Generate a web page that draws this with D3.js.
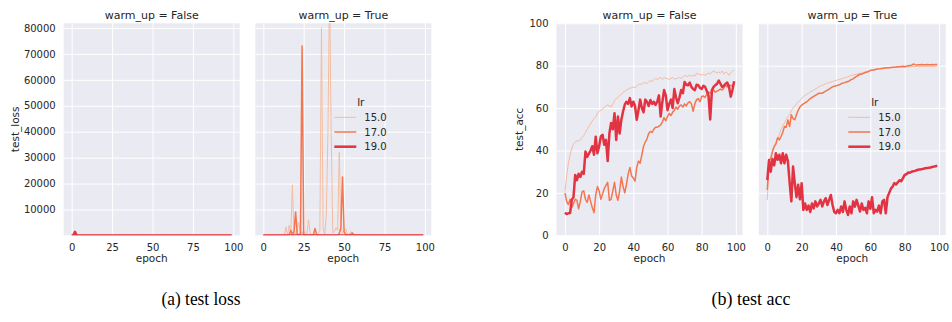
<!DOCTYPE html>
<html><head><meta charset="utf-8">
<script src="https://cdn.jsdelivr.net/npm/d3@7"></script>
<style>body{margin:0;background:#fff}svg{display:block}</style>
</head><body><svg id="c" width="952" height="322"></svg>
<script>
// ---------------- data ----------------
const lrLevels = ["15.0", "17.0", "19.0"];
const panelTitles = ["warm_up = False", "warm_up = True"];
const captions = ["(a) test loss", "(b) test acc"];
const lossXTicks = [0, 25, 50, 75, 100];
const lossYTicks = [10000, 20000, 30000, 40000, 50000, 60000, 70000, 80000];
const accXTicks = [0, 20, 40, 60, 80, 100];
const accYTicks = [0, 20, 40, 60, 80, 100];

// test_loss, warm_up = False
const lossF15 = [2.1,1.9,1.7,1.6,1.5,1.5,1.4,1.4,1.3,1.3, 1.3,1.2,1.2,1.2,1.1,1.1,1.1,1.0,1.0,1.0,
  1.0,1.0,0.9,0.9,0.9,0.9,0.9,0.9,0.9,0.9, 0.8,0.8,0.8,0.8,0.8,0.8,0.8,0.8,0.8,0.8,
  0.8,0.8,0.8,0.8,0.8,0.8,0.8,0.8,0.8,0.8, 0.8,0.8,0.8,0.8,0.8,0.8,0.8,0.8,0.8,0.8,
  0.8,0.8,0.8,0.8,0.8,0.8,0.8,0.8,0.8,0.8, 0.7,0.7,0.7,0.7,0.7,0.7,0.7,0.7,0.7,0.7,
  0.7,0.7,0.7,0.7,0.7,0.7,0.7,0.7,0.7,0.7, 0.7,0.7,0.7,0.7,0.7,0.7,0.7,0.7,0.7,0.7];
const lossF17 = [2.2,2.4,2.3,2.3,2.5,2.4,2.3,2.4,2.6,2.4, 2.3,2.3,2.4,2.4,2.3,2.4,2.5,2.6,2.3,2.2,
  2.2,2.3,2.2,2.1,2.1,2.0,2.3,2.2,2.1,2.0, 2.2,2.3,2.1,1.9,2.0,2.1,1.9,1.8,1.8,1.9,
  1.9,1.9,1.7,1.7,1.7,1.6,1.5,1.5,1.4,1.4, 1.4,1.4,1.3,1.3,1.3,1.3,1.3,1.2,1.2,1.2,
  1.2,1.2,1.2,1.1,1.1,1.1,1.1,1.1,1.1,1.1, 1.0,1.1,1.0,1.0,1.0,1.2,1.0,1.0,1.0,1.0,
  1.0,1.0,1.0,1.0,0.9,0.9,0.9,0.9,0.9,0.9, 0.9,0.9,0.9,0.9,0.9,0.9,0.9,0.9,0.9,0.9];
const lossF19 = [2.6,110,1400,95,2.3,2.1,1.9,2.0,1.9,1.9, 1.8,1.7,1.7,1.7,1.7,1.6,1.6,1.5,1.6,1.7,
  1.6,1.5,1.5,1.6,1.5,1.8,1.4,1.3,1.4,1.2, 1.5,1.2,1.4,1.3,1.2,1.1,1.1,1.1,1.0,1.1,
  1.1,1.1,1.3,1.1,1.0,1.1,1.2,1.0,1.0,1.1, 1.0,1.1,1.0,1.1,1.0,1.0,1.2,1.0,0.9,1.0,
  1.2,1.1,1.0,1.1,0.9,1.0,1.1,1.0,0.9,1.0, 0.8,0.9,0.9,0.8,0.9,0.9,0.9,0.9,0.9,0.9,
  0.9,0.9,0.9,1.0,1.0,1.4,0.9,0.9,0.9,0.8, 0.8,0.9,0.9,0.9,0.9,0.8,0.9,1.0,0.9,0.8];
// test_loss, warm_up = True
const lossT15 = [2.2,1.9,1.7,1.6,1.5,1.4,1.4,1.3,1.3,1.3, 1.2,1.2,1.3,1.5,3300,200,4000,900,19500,1500,
  300,3000,5000,300,1500,200,1500,500,6000,800, 100,50,300,100,800,2000,80000,3000,300,8000,
  40000,95000,40000,1000,1500,3000,2000,32000,4000,800, 2000,2500,600,400,1500,300,600,200,100,400,
  50,5,3,2,1.5,1.2,1.1,1.0,1.0,0.9, 0.9,0.9,0.9,0.8,0.8,0.8,0.8,0.8,0.8,0.8,
  0.8,0.8,0.8,0.8,0.8,0.8,0.8,0.8,0.8,0.8, 0.8,0.8,0.8,0.8,0.8,0.8,0.8,0.8,0.8,0.8];
const lossT17 = [2.2,1.9,1.8,1.7,1.6,1.5,1.5,1.4,1.4,1.4, 1.3,1.3,1.4,1.3,2,100,200,2000,400,1500,
  9000,500,200,800,73000,500,100,50,300,100, 50,200,2700,300,50,20,10,30,5,3,
  8,4,10,30,20,5,100,800,3000,22500, 1500,300,100,50,200,1000,200,100,10,3,
  2,1.5,1.2,1.1,1.0,1.0,0.9,0.9,0.9,0.8, 0.8,0.8,0.8,0.8,0.8,0.8,0.7,0.7,0.7,0.7,
  0.7,0.7,0.7,0.7,0.7,0.7,0.7,0.7,0.7,0.7, 0.7,0.7,0.7,0.7,0.7,0.7,0.7,0.7,0.7,0.7];
const lossT19 = [2.4,2.0,1.9,1.8,1.8,1.7,1.7,1.7,1.8,1.7, 1.8,1.7,1.8,2.3,2.4,2.0,2.2,2.3,2.2,2.3,
  2.2,2.4,2.3,2.4,2.3,2.4,2.3,2.3,2.4,2.3, 2.3,2.3,2.4,2.3,2.3,2.4,2.3,2.4,2.5,2.4,
  2.5,2.4,2.5,2.4,2.4,2.3,2.4,2.5,2.4,2.5, 2.3,2.4,2.3,2.4,2.5,2.4,2.4,2.5,2.5,2.3,
  2.5,2.3,2.5,2.5,2.5,2.4,2.5,2.3,2.3,2.5, 2.3,2.2,2.1,2.1,2.0,2.0,2.0,1.9,1.9,1.9,
  1.8,1.8,1.8,1.8,1.8,1.8,1.8,1.8,1.8,1.8, 1.8,1.8,1.7,1.7,1.7,1.7,1.7,1.7,1.7,1.7];

// test_acc, warm_up = False
const accF15 = [20.6,28,34,38,41,43,44,44.5,44.5,45, 46,47,48.5,50,51.5,52.5,54,55,56,57.5,
  58.5,59,59.5,60.5,61,61.5,61,60.5,62,63.5, 64.5,65,66,66.5,67.5,68,68.5,69,69.5,69.5,
  70,69.5,70.5,71,71.5,71,72,72,71.5,72.5, 73,72.5,73.5,74,73.5,74,74.5,73.5,74.5,74,
  74,73.5,74,74.5,73.5,74,74,74.5,74,74.5, 75.5,75,75,75.5,75,75.5,75,76.5,76,76,
  75.5,76,75.5,76,76.5,76,77,77.5,77,76.5, 77,76.5,77.5,76,77,76.5,75.5,76.5,77.5,78];
const accF17 = [20,16,14.5,17,13,15,17,16.5,12.5,16, 20.5,21,17,15.5,19,16,13,10.7,19,23,
  21,17,19.5,22,23.5,25,16.5,17,21,25, 19,16.5,21,27.5,23,20,24,29,32,28,
  27,25.5,32,35,34,38,42,44,45.5,48, 49,48.5,50,51,51,51.5,52,53.5,55.5,54,
  56,57.5,56.5,58,59,60.5,59.5,61,61.5,60.5, 62,61,62.5,63,62,58.5,62,64,64.5,63,
  65.5,65.7,65,66.5,67.7,67,68,68.5,67.5,68, 68.5,69,68.5,69.5,70.8,70,71,70.5,70.8,71.5];
const accF19 = [10.7,10,10.4,10.5,16.7,18,28.5,26,29,27.5, 30,29,39.5,37,38.5,40,42,38,46.5,38.7,
  42,46.6,47.4,42.7,45,35,48,53,50,57.6, 45,56,48,54.5,58.4,61.6,63,62,64.7,60.8,
  63,61,54.5,59,64,60,58,64,63,61, 63.8,62,63,61.5,63,66,56,63,68.5,66,
  59,62,64,60,69,65,62.3,65,68.5,67, 72.3,71,70.8,72,70,69,68.5,71,70.8,69.5,
  69,70.5,70,68,66,54.6,68.5,70,70.8,71.5, 73,71.5,70,70.5,71.5,72,70,65.4,68.5,72.7];
// test_acc, warm_up = True
const accT15 = [16.7,32,37,39.5,42,44,45.5,47.5,50,51.5, 53,54.5,56,57,59,60,61,62,63,63.5,
  64.5,65.5,66,66.5,67,67.8,68,68.5,69,69.5, 70,70.5,70.8,71,71.5,71.8,72,72.3,72.5,72.8,
  73,73.3,73.5,73.8,74,74.3,74.5,74.8,75.2,75.4, 75.6,75.8,76,76.2,76.4,76.6,76.8,77,77.3,77.5,
  77.7,77.8,78,78.1,78.3,78.4,78.5,78.6,78.7,78.8, 78.8,78.9,79,79,79.1,79.2,79.2,79.3,79.3,79.4,
  79.4,79.5,79.5,79.5,79.6,79.6,79.6,79.7,79.6,79.6, 79.6,79.7,79.6,79.7,79.6,79.7,79.6,79.7,79.7,79.8];
const accT17 = [21.4,35.5,36,39.5,41.9,43,46,45,46.6,48.5, 51.3,51,54.4,51.3,56.9,55,54.5,57,59,60.5,
  61.4,62,62.5,63,63.7,64.5,65,65.5,66,66.5, 67,67,67,67.5,68,68.5,69,69.5,70,70.3,
  70.5,70.8,71,71.5,71.8,72,72.3,72.5,73,73.5, 73.8,74.5,75,75.5,76,76,76.4,76.8,77,77.3,
  77.7,78,78,78.2,78.4,78.5,78.6,78.8,78.8,79, 79,79,79.2,79.3,79.3,79.4,79.5,79.5,79.6,79.7,
  79.5,79.8,80,80.1,80.2,80.8,80.5,80.3,80.4,80.5, 80.6,80.5,80.5,80.6,80.5,80.5,80.6,80.5,80.6,80.6];
const accT19 = [26,35.5,30,36,33,38.7,35.6,38,34,38.7, 34,38,35,25,16,32.4,24.6,18,23.8,17,
  24.5,12,15,12,14,11,15,12.7,16,13.6, 15,16.7,13.6,16,17.5,14.3,16.7,19,14.3,11,
  10.4,12,10.4,13.6,11,16,12,9.6,13.6,10.4, 16,13.5,16.7,14,11.2,15,12,13,10.4,16,
  12.5,18,10.4,12,11.2,14,10.4,16,16.7,10.4, 18,20,22,23,24.6,24,25,26,25.5,27,
  28.5,28.8,29.6,29.5,30,30.2,30.4,30.7,31,31, 31.2,31.4,31.6,31.7,31.9,32,32.2,32.4,32.6,32.8];

// ---------------- style / layout ----------------
const colors = ["#f5bc9f", "#f37651", "#e13342"];
const widths = [1.0, 1.5, 2.5];
const TOP = 23.3, BOTTOM = 235.3;
const textCol = "#262626";
const font = "DejaVu Sans, sans-serif";

const panels = [
  {series: [lossF15, lossF17, lossF19], left: 63.7, right: 239.7, kind: "loss", title: panelTitles[0], ylabel: "test_loss"},
  {series: [lossT15, lossT17, lossT19], left: 255.3, right: 431.3, kind: "loss", title: panelTitles[1], legendX: 334.3},
  {series: [accF15, accF17, accF19], left: 556.5, right: 742.6, kind: "acc", title: panelTitles[0], ylabel: "test_acc"},
  {series: [accT15, accT17, accT19], left: 758.8, right: 945.8, kind: "acc", title: panelTitles[1], legendX: 848.3}
];

const svg = d3.select("#c");

panels.forEach((p, pi) => {
  const x = d3.scaleLinear().domain([-4.95, 103.95]).range([p.left, p.right]);
  const y = p.kind === "loss"
    ? d3.scaleLinear().domain([60, 81800]).range([BOTTOM, TOP])
    : d3.scaleLinear().domain([0, 100]).range([BOTTOM, TOP]);
  const xt = p.kind === "loss" ? lossXTicks : accXTicks;
  const yt = p.kind === "loss" ? lossYTicks : accYTicks;
  const g = svg.append("g");

  g.append("rect").attr("x", p.left).attr("y", TOP)
    .attr("width", p.right - p.left).attr("height", BOTTOM - TOP).attr("fill", "#eaeaf2");

  const clipId = "clip" + pi;
  svg.append("clipPath").attr("id", clipId).append("rect")
    .attr("x", p.left).attr("y", TOP).attr("width", p.right - p.left).attr("height", BOTTOM - TOP);

  const gx = g.append("g").attr("transform", `translate(0,${BOTTOM})`)
    .call(d3.axisBottom(x).tickValues(xt).tickSize(-(BOTTOM - TOP)).tickPadding(8).tickFormat(d3.format("d")));
  const gy = g.append("g").attr("transform", `translate(${p.left},0)`)
    .call(d3.axisLeft(y).tickValues(yt).tickSize(-(p.right - p.left)).tickPadding(8)
      .tickFormat(p.ylabel ? d3.format("d") : () => ""));
  [gx, gy].forEach(a => {
    a.select(".domain").remove();
    a.selectAll(".tick line").attr("stroke", "#fff").attr("stroke-width", 1);
    a.selectAll(".tick text").attr("fill", textCol).style("font-family", font).style("font-size", "10px");
  });
  gx.selectAll(".tick text").attr("dy", "0.71em").attr("y", 8.8);

  const line = d3.line().x((d, i) => x(i)).y(d => y(d));
  const lg = g.append("g").attr("clip-path", `url(#${clipId})`);
  p.series.forEach((s, si) => {
    lg.append("path").datum(s).attr("d", line).attr("fill", "none")
      .attr("stroke", colors[si]).attr("stroke-width", widths[si])
      .attr("stroke-linejoin", "round").attr("stroke-linecap", "butt");
  });

  g.append("text").attr("x", (p.left + p.right) / 2).attr("y", 18.6).attr("text-anchor", "middle")
    .attr("fill", textCol).style("font-family", font).style("font-size", "11px").text(p.title);
  g.append("text").attr("x", (p.left + p.right) / 2).attr("y", 262).attr("text-anchor", "middle")
    .attr("fill", textCol).style("font-family", font).style("font-size", "10.5px").text("epoch");
  if (p.ylabel) {
    const lx = p.kind === "loss" ? 18.5 : 523;
    g.append("text").attr("transform", `translate(${lx},${(TOP + BOTTOM) / 2}) rotate(-90)`)
      .attr("text-anchor", "middle").attr("fill", textCol).style("font-family", font)
      .style("font-size", "10.5px").text(p.ylabel);
  }
  if (p.legendX !== undefined) {
    const L = g.append("g");
    L.append("text").attr("x", p.legendX + 26.5).attr("y", 106).attr("text-anchor", "middle")
      .attr("fill", textCol).style("font-family", font).style("font-size", "10.5px").text("lr");
    lrLevels.forEach((lv, i) => {
      const yy = 117.3 + i * 14.7;
      L.append("line").attr("x1", p.legendX).attr("x2", p.legendX + 22).attr("y1", yy).attr("y2", yy)
        .attr("stroke", colors[i]).attr("stroke-width", widths[i]);
      L.append("text").attr("x", p.legendX + 30).attr("y", yy).attr("dy", "0.36em")
        .attr("fill", textCol).style("font-family", font).style("font-size", "10px").text(lv);
    });
  }
});

[[captions[0], 201], [captions[1], 751]].forEach(([t, cx]) => {
  svg.append("text").attr("x", cx).attr("y", 305).attr("text-anchor", "middle")
    .attr("fill", "#000").style("font-family", "Liberation Serif, Times New Roman, serif")
    .style("font-size", "18.5px").attr("textLength", 79).attr("lengthAdjust", "spacingAndGlyphs").text(t);
});
</script></body></html>
